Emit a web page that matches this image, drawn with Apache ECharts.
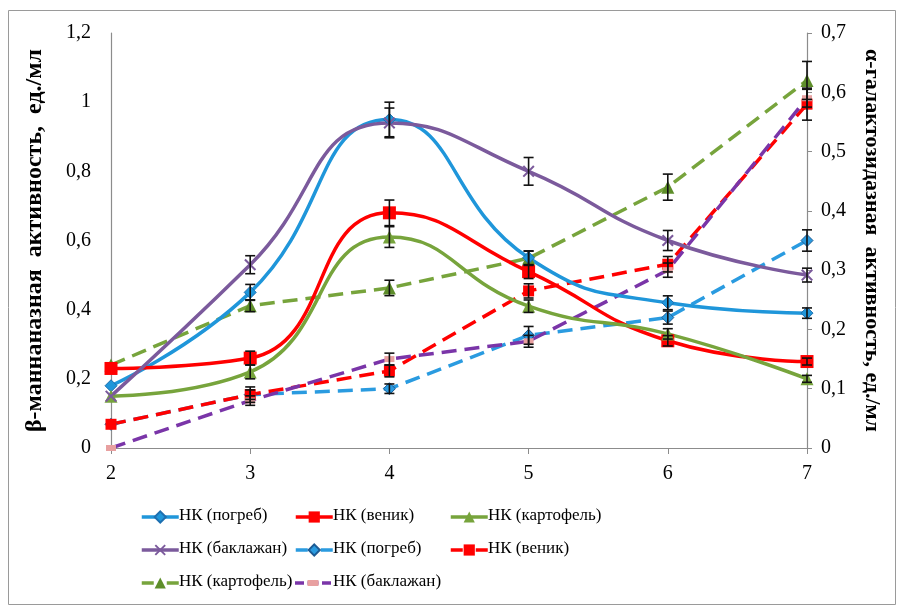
<!DOCTYPE html>
<html>
<head>
<meta charset="utf-8">
<script src="https://cdn.jsdelivr.net/npm/echarts@6/dist/echarts.min.js"></script>
<style>html,body{margin:0;padding:0;background:#fff}#c{width:898px;height:607px}</style>
</head>
<body>
<div id="c"></div>
<script>
// categories (x)
const categories = ['2', '3', '4', '5', '6', '7'];

// β-mannanase (left axis), solid lines
const pogrebSolid   = [0.18, 0.45, 0.95, 0.55, 0.42, 0.39];
const venikSolid    = [0.23, 0.26, 0.68, 0.51, 0.31, 0.25];
const kartofSolid   = [0.15, 0.22, 0.61, 0.41, 0.33, 0.20];
const baklazhSolid  = [0.15, 0.53, 0.94, 0.80, 0.60, 0.50];

// α-galactosidase (right axis), dashed lines
const pogrebDash    = [0.04, 0.09, 0.10, 0.19, 0.22, 0.35];
const venikDash     = [0.04, 0.09, 0.13, 0.265, 0.31, 0.58];
const kartofDash    = [0.14, 0.24, 0.27, 0.32, 0.44, 0.62];
const baklazhDash   = [0.00, 0.08, 0.15, 0.18, 0.30, 0.59];

// error bar half-widths
const pogrebSolidErr  = [0, 0.023, 0.05, 0.02, 0.02, 0.015];
const venikSolidErr   = [0, 0.02, 0.037, 0.02, 0.015, 0.01];
const kartofSolidErr  = [0, 0.02, 0.03, 0.018, 0.015, 0.01];
const baklazhSolidErr = [0, 0.026, 0.043, 0.04, 0.029, 0.02];
const pogrebDashErr   = [0, 0.008, 0.008, 0.015, 0.011, 0.018];
const venikDashErr    = [0, 0.013, 0.01, 0.012, 0.013, 0.027];
const kartofDashErr   = [0, 0.01, 0.013, 0.012, 0.022, 0.032];
const baklazhDashErr  = [0, 0.008, 0.01, 0.01, 0.012, 0.015];

// left / right axis tick values
const leftTicks = [0, 0.2, 0.4, 0.6, 0.8, 1, 1.2];
const rightTicks = [0, 0.1, 0.2, 0.3, 0.4, 0.5, 0.6, 0.7];

const FONT = '"Liberation Serif", serif';
const C = {
  blue: '#1f96da', red: '#ff0000', green: '#77a43c', greenDark: '#5e8e2a',
  purple: '#7b5a9c', purpleDash: '#7a35a8', blueDash: '#2a9be0', pink: '#e8a0a0'
};
const xSym = 'path://M0,1.2L1.2,0L5,3.8L8.8,0L10,1.2L6.2,5L10,8.8L8.8,10L5,6.2L1.2,10L0,8.8L3.8,5Z';
const dashSym = 'path://M0,0H10V6H0Z';
const DASH = [15, 8];

function lineSeries(name, data, yIdx, color, dashed, symbol, symbolSize, symColor, symBorder) {
  return {
    name, type: 'line', yAxisIndex: yIdx, data,
    smooth: dashed ? false : 0.5,
    symbol, symbolSize, symbolKeepAspect: true,
    showSymbol: true,
    lineStyle: { color, width: 3.5, type: dashed ? DASH : 'solid', cap: 'butt' },
    itemStyle: { color: symColor || color, borderColor: symBorder || symColor || color, borderWidth: symBorder ? 1 : 0, opacity: 1 },
    emphasis: { disabled: true },
    z: 3
  };
}

function errSeries(vals, errs, yIdx) {
  return {
    type: 'custom', yAxisIndex: yIdx, z: 10, silent: true,
    data: vals.map((v, i) => [i, v, errs[i]]).filter(d => d[2] > 0),
    renderItem: function (params, api) {
      const x = api.value(0), v = api.value(1), e = api.value(2);
      const top = api.coord([x, v + e]);
      const bot = api.coord([x, v - e]);
      const w = 5;
      const st = { stroke: '#111', lineWidth: 1.6 };
      return {
        type: 'group', children: [
          { type: 'line', shape: { x1: top[0], y1: top[1], x2: bot[0], y2: bot[1] }, style: st },
          { type: 'line', shape: { x1: top[0] - w, y1: top[1], x2: top[0] + w, y2: top[1] }, style: st },
          { type: 'line', shape: { x1: bot[0] - w, y1: bot[1], x2: bot[0] + w, y2: bot[1] }, style: st }
        ]
      };
    }
  };
}

const N1 = 'НК (погреб)', N2 = 'НК (веник)', N3 = 'НК (картофель)', N4 = 'НК (баклажан)';
const D1 = 'НК (погреб) ', D2 = 'НК (веник) ', D3 = 'НК (картофель) ', D4 = 'НК (баклажан) ';

const series = [
  lineSeries(D1, pogrebDash, 1, C.blueDash, true, 'diamond', 12, C.blueDash, '#1d5b94'),
  lineSeries(D2, venikDash, 1, C.red, true, 'rect', 11, C.red),
  lineSeries(D3, kartofDash, 1, C.green, true, 'triangle', 13, C.greenDark),
  lineSeries(D4, baklazhDash, 1, C.purpleDash, true, dashSym, 10, C.pink),
  lineSeries(N1, pogrebSolid, 0, C.blue, false, 'diamond', 12, C.blue, '#1d6fb0'),
  lineSeries(N2, venikSolid, 0, C.red, false, 'rect', 13, C.red),
  lineSeries(N3, kartofSolid, 0, C.green, false, 'triangle', 13, C.green),
  lineSeries(N4, baklazhSolid, 0, C.purple, false, xSym, 12, C.purple),
  errSeries(pogrebSolid, pogrebSolidErr, 0),
  errSeries(venikSolid, venikSolidErr, 0),
  errSeries(kartofSolid, kartofSolidErr, 0),
  errSeries(baklazhSolid, baklazhSolidErr, 0),
  errSeries(pogrebDash, pogrebDashErr, 1),
  errSeries(venikDash, venikDashErr, 1),
  errSeries(kartofDash, kartofDashErr, 1),
  errSeries(baklazhDash, baklazhDashErr, 1)
];

// legend layout: [name, left, rowCenterY, dashed, lineColor, symbolColor]
const legendCells = [
  [N1, 140, 517, false, C.blue, C.blue], [N2, 294, 517, false, C.red, C.red], [N3, 449, 517, false, C.green, C.green],
  [N4, 140, 550, false, C.purple, C.purple], [D1, 294, 550, true, C.blueDash, C.blueDash], [D2, 449, 550, true, C.red, C.red],
  [D3, 140, 583, true, C.green, C.greenDark]
];
const legends = legendCells.map(([name, left, cy, dashed, color, sc]) => ({
  orient: 'horizontal', left, top: cy - 7, itemWidth: 37, itemHeight: 14, itemGap: 0,
  selectedMode: false, padding: 0,
  data: [{
    name,
    itemStyle: { color: sc, opacity: 1 },
    lineStyle: { color, width: 3.5, type: dashed ? [12, 13] : 'solid', cap: 'butt', opacity: 1 }
  }],
  formatter: () => ''
}));
// purple dashed item: purple bar with pink marker on top, built from two legend icons
legends.push({
  orient: 'horizontal', left: 295, top: 583 - 1.75, itemWidth: 36, itemHeight: 3.5, itemGap: 0,
  selectedMode: false, padding: 0, formatter: () => '',
  data: [{ name: D4, icon: 'rect', itemStyle: { color: C.purpleDash, borderWidth: 0 } }]
});
legends.push({
  orient: 'horizontal', left: 295 + 9, top: 583 - 3, itemWidth: 18, itemHeight: 6, itemGap: 0,
  selectedMode: false, padding: 0, formatter: () => '',
  data: [{ name: D4, icon: 'path://M0,0H3V6H0Z M3.5,0H14.5V6H3.5Z M15,0H18V6H15Z', itemStyle: { color: '#ffffff', borderWidth: 0 } }]
});
legends.push({
  orient: 'horizontal', left: 295 + 12.5, top: 583 - 3, itemWidth: 11, itemHeight: 6, itemGap: 0,
  selectedMode: false, padding: 0, formatter: () => '',
  data: [{ name: D4, icon: 'rect', itemStyle: { color: C.pink, borderWidth: 0 } }]
});

// legend labels as text next to each legend icon
const legendTexts = legendCells.concat([[D4, 294, 583]]).map(([name, left, cy]) => ({
  type: 'text', left: left + 39, top: cy - 10, silent: true,
  style: { text: name.trim(), font: '17px "Liberation Serif", serif', fill: '#000' }
}));

const fmt = v => String(+v.toFixed(2)).replace('.', ',');

const option = {
  animation: false,
  backgroundColor: '#fff',
  textStyle: { fontFamily: FONT },
  grid: { left: 111, right: 91, top: 33, bottom: 159, containLabel: false },
  xAxis: {
    type: 'category', data: categories, boundaryGap: false,
    axisLine: { lineStyle: { color: '#8c8c8c', width: 1.2 } },
    axisTick: { show: true, length: 6, lineStyle: { color: '#8c8c8c' } },
    axisLabel: { fontFamily: FONT, fontSize: 20, color: '#000', margin: 16 },
    splitLine: { show: false }
  },
  yAxis: [
    {
      type: 'value', min: leftTicks[0], max: leftTicks[leftTicks.length - 1], interval: 0.2,
      position: 'left',
      name: 'β-маннаназная  активность,  ед./мл', nameLocation: 'middle', nameGap: 64,
      nameTextStyle: { fontFamily: FONT, fontSize: 24, fontWeight: 'bold', color: '#000' },
      axisLine: { show: true, lineStyle: { color: '#8c8c8c', width: 1.2 } },
      axisTick: { show: false },
      axisLabel: { fontFamily: FONT, fontSize: 20, color: '#000', margin: 20, formatter: fmt },
      splitLine: { show: false }
    },
    {
      type: 'value', min: rightTicks[0], max: rightTicks[rightTicks.length - 1], interval: 0.1,
      position: 'right',
      name: 'α-галактозидазная  активность, ед./мл', nameLocation: 'middle', nameGap: 54, nameRotate: -90,
      nameTextStyle: { fontFamily: FONT, fontSize: 22, fontWeight: 'bold', color: '#000' },
      axisLine: { show: true, lineStyle: { color: '#8c8c8c', width: 1.2 } },
      axisTick: { show: true, length: 5, lineStyle: { color: '#8c8c8c' } },
      axisLabel: { fontFamily: FONT, fontSize: 20, color: '#000', margin: 14, formatter: fmt },
      splitLine: { show: false }
    }
  ],
  legend: legends,
  graphic: [{
    type: 'rect', shape: { x: 8.5, y: 10.5, width: 887, height: 594 },
    style: { fill: 'none', stroke: '#9a9a9a', lineWidth: 1 }, silent: true, z: -1
  }].concat(legendTexts),
  series
};

const chart = echarts.init(document.getElementById('c'), null, { renderer: 'canvas' });
chart.setOption(option);
</script>
</body>
</html>
